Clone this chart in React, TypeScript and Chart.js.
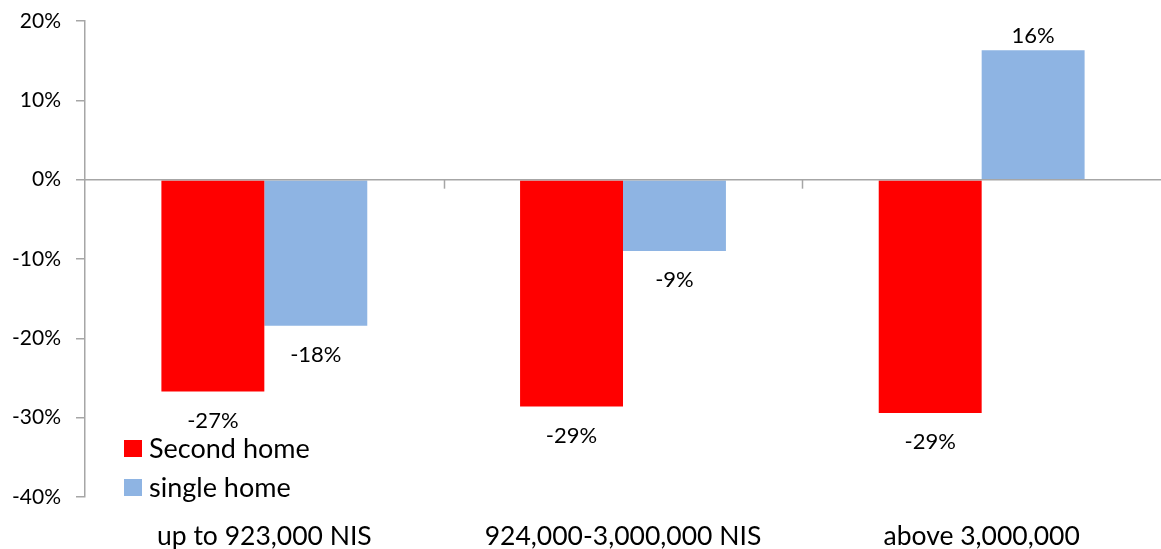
import React, { useEffect, useRef } from "react";
import { Chart, registerables } from "chart.js";

Chart.register(...registerables);

const categories = ["up to 923,000 NIS", "924,000-3,000,000 NIS", "above 3,000,000"];
const seriesNames = ["Second home", "single home"];
const secondHome = [-26.7, -28.6, -29.4];
const singleHome = [-18.4, -9.0, 16.3];
const seriesColors = ["#FF0000", "#8EB4E3"];
const yTicks = [-40, -30, -20, -10, 0, 10, 20];

const FONT = "Lato, 'Noto Sans', sans-serif";

const labelPlugin = {
  id: "barLabels",
  afterDatasetsDraw(chart: any) {
    const ctx = chart.ctx;
    ctx.save();
    ctx.font = `22px ${FONT}`;
    ctx.fillStyle = "#000";
    ctx.textAlign = "center";
    ctx.textBaseline = "middle";
    chart.data.datasets.forEach((ds: any, di: number) => {
      const meta = chart.getDatasetMeta(di);
      meta.data.forEach((bar: any, i: number) => {
        const v = ds.data[i];
        const txt = `${Math.round(v)}%`;
        const y = v < 0 ? bar.y + 29 : bar.y - 14;
        ctx.fillText(txt, bar.x, y);
      });
    });
    ctx.restore();
  },
};

const axisPlugin = {
  id: "zeroAxisTicks",
  afterDatasetsDraw(chart: any) {
    const ctx = chart.ctx;
    const x = chart.scales.x;
    const y = chart.scales.y;
    const y0 = y.getPixelForValue(0);
    const n = chart.data.labels.length;
    const w = (x.right - x.left) / n;
    ctx.save();
    ctx.strokeStyle = "#A6A6A6";
    ctx.lineWidth = 1.5;
    ctx.beginPath();
    ctx.moveTo(x.left, y0);
    ctx.lineTo(x.right, y0);
    ctx.stroke();
    for (let i = 1; i < n; i++) {
      const px = Math.round(x.left + w * i) + 0.5;
      ctx.beginPath();
      ctx.moveTo(px, y0);
      ctx.lineTo(px, y0 + 9);
      ctx.stroke();
    }
    ctx.restore();
  },
};

const legendPlugin = {
  id: "innerLegend",
  afterDraw(chart: any) {
    const ctx = chart.ctx;
    const area = chart.chartArea;
    ctx.save();
    ctx.font = `27px ${FONT}`;
    ctx.textBaseline = "middle";
    ctx.textAlign = "left";
    seriesNames.forEach((name, i) => {
      const bx = area.left + 39;
      const by = 440 + i * 39;
      ctx.fillStyle = seriesColors[i];
      ctx.fillRect(bx, by, 18, 17);
      ctx.fillStyle = "#000";
      ctx.fillText(name, bx + 25, by + 9);
    });
    ctx.restore();
  },
};

export default function App() {
  const ref = useRef<HTMLCanvasElement | null>(null);
  useEffect(() => {
    document.body.style.margin = "0";
    const chart = new Chart(ref.current as HTMLCanvasElement, {
      type: "bar",
      data: {
        labels: categories,
        datasets: [
          { label: seriesNames[0], data: secondHome, backgroundColor: seriesColors[0], categoryPercentage: 0.574, barPercentage: 1 },
          { label: seriesNames[1], data: singleHome, backgroundColor: seriesColors[1], categoryPercentage: 0.574, barPercentage: 1 },
        ],
      },
      options: {
        animation: false,
        responsive: false,
        layout: { padding: { top: 21, right: 0, left: 0, bottom: 0 } },
        plugins: { legend: { display: false }, tooltip: { enabled: false } },
        scales: {
          x: {
            grid: { display: false },
            border: { display: false },
            ticks: { color: "#000", font: { size: 26.5, family: FONT }, padding: 16, maxRotation: 0 },
            afterFit(s: any) { s.height = 52; s.paddingLeft = 0; s.paddingRight = 0; },
          },
          y: {
            min: -40,
            max: 20,
            afterBuildTicks(s: any) { s.ticks = yTicks.map((v) => ({ value: v })); },
            ticks: { color: "#000", font: { size: 21, family: FONT }, padding: 15, callback: (v: any) => `${v}%` },
            grid: { drawOnChartArea: false, drawTicks: true, tickLength: 9, tickColor: "#A6A6A6", lineWidth: 1.5 },
            border: { display: true, color: "#A6A6A6", width: 1.5 },
            afterFit(s: any) { s.width = 85; s.paddingTop = 0; s.paddingBottom = 0; },
          },
        },
      },
      plugins: [axisPlugin, labelPlugin, legendPlugin],
    });
    return () => chart.destroy();
  }, []);
  return <canvas ref={ref} width={1161} height={549} style={{ display: "block" }} />;
}
